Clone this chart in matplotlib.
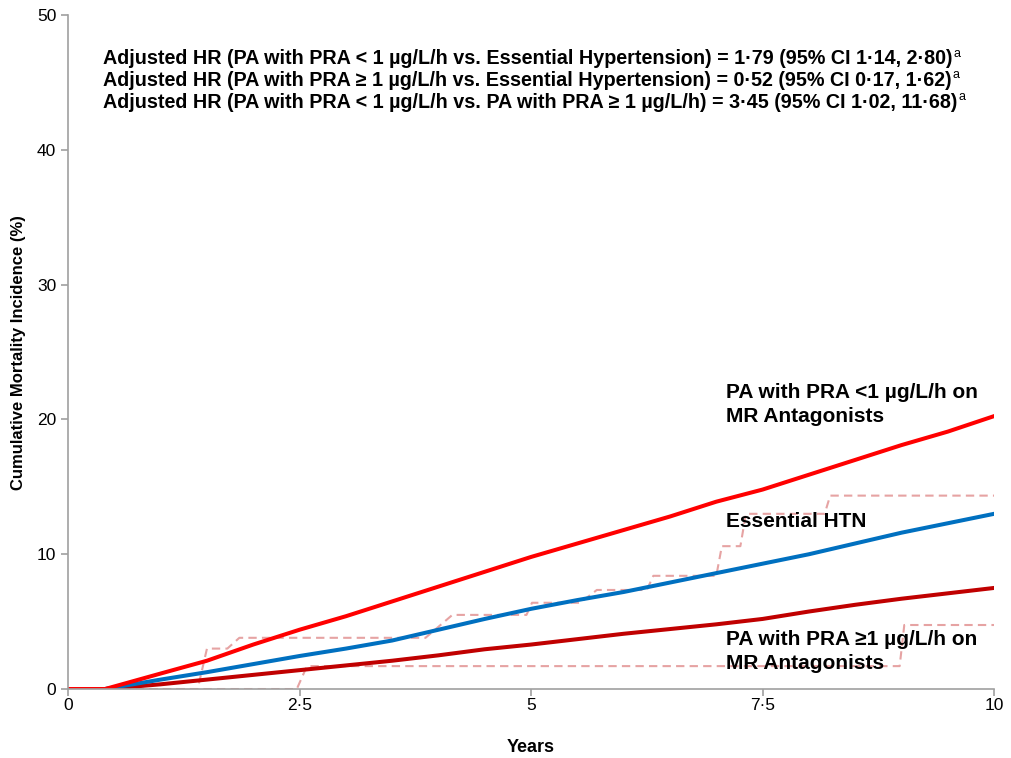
import matplotlib
matplotlib.use('Agg')
import matplotlib.pyplot as plt
import numpy as np

plt.rcParams['font.family'] = ['Liberation Sans', 'DejaVu Sans']

# fitted cumulative incidence curves (years, %)
years = [0, 0.4, 1, 1.5, 2, 2.5, 3, 3.5, 4, 4.5, 5, 5.5, 6, 6.5, 7, 7.5, 8, 8.5, 9, 9.5, 10]
pra_low = [0, 0, 1.15, 2.1, 3.3, 4.4, 5.4, 6.5, 7.6, 8.7, 9.8, 10.8, 11.8, 12.8, 13.9, 14.8, 15.9, 17.0, 18.1, 19.1, 20.25]
essential = [0, 0, 0.7, 1.25, 1.85, 2.45, 3.0, 3.6, 4.4, 5.2, 5.95, 6.6, 7.2, 7.9, 8.6, 9.3, 10.0, 10.8, 11.6, 12.3, 13.0]
pra_high = [0, 0, 0.35, 0.7, 1.05, 1.4, 1.75, 2.1, 2.5, 2.95, 3.3, 3.7, 4.1, 4.45, 4.8, 5.2, 5.75, 6.25, 6.7, 7.1, 7.5]

# observed (step) curves
obs_low_x = [0, 1.40, 1.50, 1.72, 1.85, 3.86, 4.15, 4.95, 5.01, 5.53, 5.71, 6.25, 6.32, 7.00, 7.06, 7.26, 7.32, 8.17, 8.23, 10.0]
obs_low_y = [0, 0, 3.0, 3.0, 3.8, 3.8, 5.5, 5.5, 6.4, 6.4, 7.35, 7.35, 8.4, 8.4, 10.6, 10.6, 13.0, 13.0, 14.35, 14.35]
obs_high_x = [0, 2.47, 2.58, 8.98, 9.03, 10.0]
obs_high_y = [0, 0, 1.7, 1.7, 4.75, 4.75]

hr_lines = [
    'Adjusted HR (PA with PRA < 1 \u00b5g/L/h vs. Essential Hypertension) = 1\u00b779 (95% CI 1\u00b714, 2\u00b780)',
    'Adjusted HR (PA with PRA \u2265 1 \u00b5g/L/h vs. Essential Hypertension) = 0\u00b752 (95% CI 0\u00b717, 1\u00b762)',
    'Adjusted HR (PA with PRA < 1 \u00b5g/L/h vs. PA with PRA \u2265 1 \u00b5g/L/h) = 3\u00b745 (95% CI 1\u00b702, 11\u00b768)',
]
xticks = [0, 2.5, 5, 7.5, 10]
xticklabels = ['0', '2\u00b75', '5', '7\u00b75', '10']

fig = plt.figure(figsize=(10.11, 7.58), dpi=100)
ax = fig.add_axes([0.0673, 0.091, 0.916, 0.889])

dash_col = '#E6A3A3'
ax.plot(obs_low_x, obs_low_y, color=dash_col, lw=1.5, dashes=(4, 2.5))
ax.plot(obs_high_x, obs_high_y, color=dash_col, lw=1.5, dashes=(4, 2.5))
ax.plot(years, pra_high, color='#C00000', lw=2.9)
ax.plot(years, essential, color='#0070C0', lw=2.9)
ax.plot(years, pra_low, color='#FF0000', lw=2.9)

ax.set_xlim(0, 10)
ax.set_ylim(0, 50)
ax.set_xticks(xticks)
ax.set_xticklabels(xticklabels)
ax.set_yticks(range(0, 51, 10))
for s in ['top', 'right']:
    ax.spines[s].set_visible(False)
for s in ['left', 'bottom']:
    ax.spines[s].set_color('#A0A0A0')
    ax.spines[s].set_linewidth(1.2)
ax.tick_params(colors='#A0A0A0', labelcolor='black', labelsize=12.5, length=5, width=1.2)
ax.tick_params(axis='x', pad=1.5)

ax.set_xlabel('Years', fontsize=13, fontweight='bold', labelpad=19)
ax.set_ylabel('Cumulative Mortality Incidence (%)', fontsize=12, fontweight='bold', labelpad=8)

for i, t in enumerate(hr_lines):
    txt = ax.text(0.38, 46.75 - i * 1.6, t, fontsize=14.2, fontweight='bold', va='center', ha='left')
    # superscript footnote marker after each line
    ax.annotate('a', xy=(1, 0.45), xycoords=txt, xytext=(0.5, 0), textcoords='offset points',
                fontsize=9, va='bottom', ha='left')

lab = dict(fontsize=15, fontweight='bold', ha='left', va='center', linespacing=1.35)
ax.text(7.1, 21.1, 'PA with PRA <1 \u00b5g/L/h on\nMR Antagonists', **lab)
ax.text(7.1, 12.4, 'Essential HTN', **lab)
ax.text(7.1, 2.8, 'PA with PRA \u22651 \u00b5g/L/h on\nMR Antagonists', **lab)

fig.savefig('out.png', dpi=100)
